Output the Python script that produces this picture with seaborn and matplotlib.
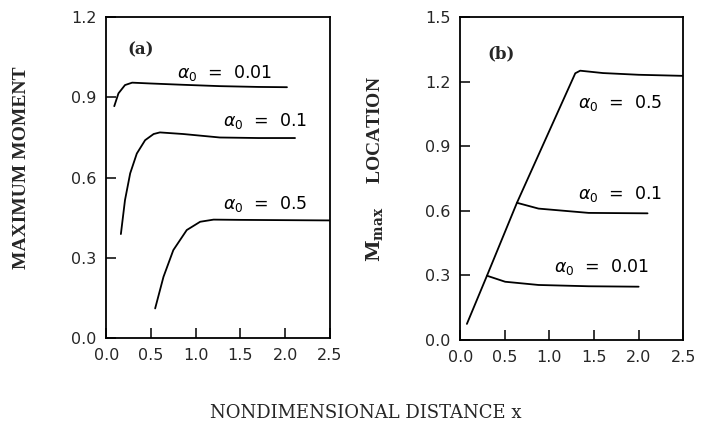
import seaborn as sns; sns.set_theme(style="ticks")
import matplotlib.pyplot as plt

# panel (a): maximum moment vs nondimensional distance
a001_x = [0.09, 0.137, 0.21, 0.29, 0.49, 0.86, 1.27, 1.7, 2.02]
a001_y = [0.867, 0.915, 0.946, 0.955, 0.952, 0.947, 0.942, 0.939, 0.938]
a01_x = [0.164, 0.21, 0.268, 0.342, 0.435, 0.53, 0.60, 0.86, 1.27, 1.7, 2.11]
a01_y = [0.389, 0.516, 0.616, 0.69, 0.74, 0.763, 0.769, 0.763, 0.75, 0.748, 0.748]
a05_x = [0.547, 0.64, 0.75, 0.90, 1.05, 1.20, 1.5, 2.0, 2.5]
a05_y = [0.111, 0.229, 0.329, 0.404, 0.435, 0.443, 0.442, 0.441, 0.44]

# panel (b): location of M_max
b05_x = [0.075, 0.30, 0.636, 1.29, 1.345, 1.6, 2.0, 2.5]
b05_y = [0.074, 0.298, 0.637, 1.239, 1.251, 1.24, 1.232, 1.227]
b01_x = [0.636, 0.878, 1.44, 2.1]
b01_y = [0.637, 0.61, 0.59, 0.588]
b001_x = [0.30, 0.504, 0.878, 1.44, 2.0]
b001_y = [0.298, 0.27, 0.255, 0.249, 0.247]

xticks = [0.0, 0.5, 1.0, 1.5, 2.0, 2.5]
yticks_a = [0.0, 0.3, 0.6, 0.9, 1.2]
yticks_b = [0.0, 0.3, 0.6, 0.9, 1.2, 1.5]

plt.rcParams['font.family'] = ['DejaVu Sans']

fig = plt.figure(figsize=(7.08, 4.28), dpi=100)
axA = fig.add_axes([0.150, 0.210, 0.316, 0.750])
axB = fig.add_axes([0.650, 0.206, 0.315, 0.754])

lw = 1.3
for xs, ys in [(a001_x, a001_y), (a01_x, a01_y), (a05_x, a05_y)]:
  sns.lineplot(x=xs, y=ys, ax=axA, color='black', lw=lw, sort=False, estimator=None)
for xs, ys in [(b05_x, b05_y), (b01_x, b01_y), (b001_x, b001_y)]:
  sns.lineplot(x=xs, y=ys, ax=axB, color='black', lw=lw, sort=False, estimator=None)

for ax, yt in [(axA, yticks_a), (axB, yticks_b)]:
  ax.set_xlim(0, 2.5)
  ax.set_ylim(yt[0], yt[-1])
  ax.set_xticks(xticks)
  ax.set_yticks(yt)
  ax.set_xticklabels(['%.1f' % v for v in xticks])
  ax.set_yticklabels(['%.1f' % v for v in yt])
  ax.tick_params(axis='both', direction='in', labelsize=11.5, length=7, width=1.1,
                 color='black', pad=7)
  for s in ax.spines.values():
    s.set_linewidth(1.3)
    s.set_color('black')

ylab = {'family': 'Liberation Serif', 'size': 14, 'weight': 'bold'}
axA.set_ylabel('MAXIMUM MOMENT', fontdict=ylab)
axA.yaxis.set_label_coords(-0.34, 0.53)
axB.set_ylabel(r'$\mathbf{M_{max}}$     LOCATION', fontdict=ylab, math_fontfamily='dejavuserif')
axB.yaxis.set_label_coords(-0.336, 0.53)
fig.text(0.516, 0.035, 'NONDIMENSIONAL DISTANCE x', ha='center', va='center',
         family='DejaVu Serif', size=13)

ann = dict(fontsize=12.5, color='black', va='center')
panel = dict(family='DejaVu Serif', fontsize=12, weight='bold', ha='center', va='center')
axA.text(0.38, 1.077, '(a)', **panel)
axA.text(0.79, 0.99, r'$\alpha_0$  =  0.01', **ann)
axA.text(1.31, 0.81, r'$\alpha_0$  =  0.1', **ann)
axA.text(1.31, 0.50, r'$\alpha_0$  =  0.5', **ann)

axB.text(0.46, 1.328, '(b)', **panel)
axB.text(1.32, 1.10, r'$\alpha_0$  =  0.5', **ann)
axB.text(1.32, 0.68, r'$\alpha_0$  =  0.1', **ann)
axB.text(1.05, 0.34, r'$\alpha_0$  =  0.01', **ann)

plt.savefig('out.png', dpi=100)
